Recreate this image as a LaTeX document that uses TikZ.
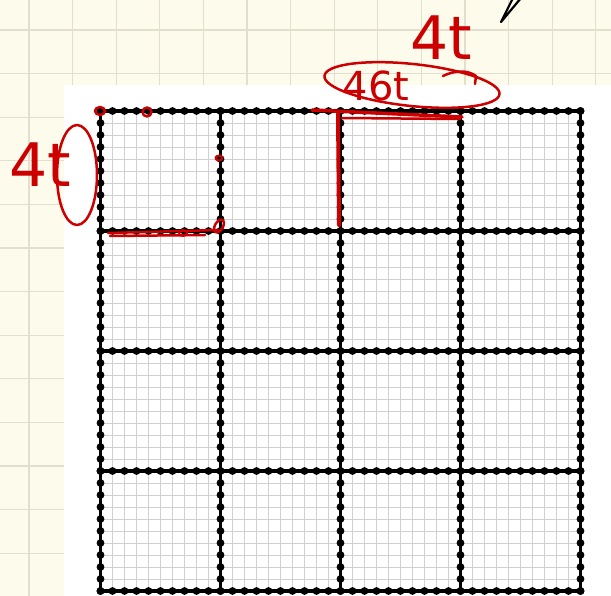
\documentclass[tikz,border=0pt]{standalone}
\usepackage{fontspec}
\newfontfamily\inkfont{DejaVu Sans}
\usetikzlibrary{calc}

\definecolor{paper}{RGB}{253,251,236}
\definecolor{paperline}{RGB}{226,223,206}
\definecolor{fineline}{RGB}{208,208,208}
\definecolor{inkred}{RGB}{204,0,0}

\begin{document}
\begin{tikzpicture}[
    x=1pt, y=-1pt,
    paper grid/.style={draw=paperline, line width=1.2pt},
    fine grid/.style={draw=fineline, line width=0.9pt},
    edge line/.style={draw=black, line width=3.2pt},
    dot/.style={fill=black},
    redink/.style={draw=inkred, line width=2.5pt, line cap=round, line join=round},
    scribble/.style={text=inkred, inner sep=0pt, font=\inkfont\fontsize{60}{60}\selectfont},
]

    % paper
    \useasboundingbox (0,0) rectangle (611,596);
    \fill[paper] (0,0) rectangle (611,596);
    \foreach \k in {0,...,13} {
        \draw[paper grid] ({29+43.6*\k},0) -- ({29+43.6*\k},596);
        \draw[paper grid] (0,{30+43.6*\k}) -- (611,{30+43.6*\k});
    }

    % sheet with the lattice
    \fill[white] (64,85) rectangle (611,596);
    \foreach \i in {0,...,40} {
        \draw[fine grid] ({100.5+12*\i},111) -- ({100.5+12*\i},591);
        \draw[fine grid] (100.5,{111+12*\i}) -- (580.5,{111+12*\i});
    }
    \foreach \k in {0,...,4} {
        \draw[edge line] ({100.5+120*\k},111) -- ({100.5+120*\k},591);
        \draw[edge line] (100.5,{111+120*\k}) -- (580.5,{111+120*\k});
    }
    \foreach \k in {0,...,4}
        \foreach \i in {0,...,40} {
            \fill[dot] ({100.5+12*\i},{111+120*\k}) circle (3.9);
            \fill[dot] ({100.5+120*\k},{111+12*\i}) circle (3.9);
        }

    % pen mark
    \draw[line width=2.2pt, line join=round] (521,-2) -- (501,22) -- (513,-2);

    % top notes
    \node (top_mark) [scribble] at (441,38) {4t};
    \node (circled_mark) [scribble, font=\inkfont\fontsize{40}{40}\selectfont] at (376,86) {46t};
    \draw[redink] (412,85) ellipse [x radius=88, y radius=21, rotate=-6];
    \draw[redink] (443,76) .. controls (455,70) and (468,70) .. (476,76) -- (475,84);

    % strokes on the first block
    \draw[redink, line width=3.5pt] (312,110) -- (462,117);
    \draw[redink] (342,118) -- (460,119);
    \draw[redink, line width=4pt] (338,114) -- (339,225);

    % side note
    \node (side_mark) [scribble] at (40,165) {4t};
    \draw[redink] (77,175) ellipse [x radius=20, y radius=50];

    % marks on the corner block
    \draw[redink] (108,233) -- (218,230);
    \draw[redink] (110,236) -- (205,235);
    \draw[redink] (100,111) ellipse [x radius=5, y radius=4];
    \draw[redink] (147,112) ellipse [x radius=4.5, y radius=4.5];
    \draw[redink, line width=2pt] (219,158) ellipse [x radius=3.5, y radius=2.5];
    \draw[redink, line width=2pt] (183,233) ellipse [x radius=4, y radius=3];
    \draw[redink] (219,226) ellipse [x radius=4, y radius=7, rotate=-30];

\end{tikzpicture}
\end{document}
